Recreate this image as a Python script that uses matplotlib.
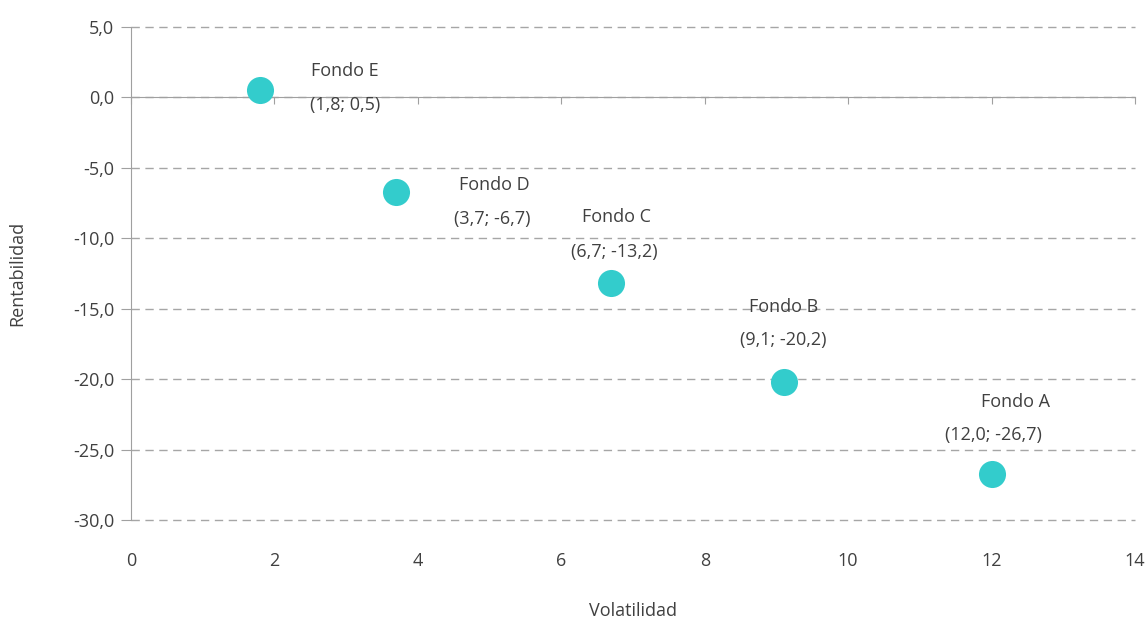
import matplotlib
matplotlib.use("Agg")
import matplotlib.pyplot as plt

funds = ["Fondo A", "Fondo B", "Fondo C", "Fondo D", "Fondo E"]
volatility = [12.0, 9.1, 6.7, 3.7, 1.8]
returns = [-26.7, -20.2, -13.2, -6.7, 0.5]
coord_labels = ["(12,0; -26,7)", "(9,1; -20,2)", "(6,7; -13,2)", "(3,7; -6,7)", "(1,8; 0,5)"]
x_ticks = [0, 2, 4, 6, 8, 10, 12, 14]
y_ticks = [5, 0, -5, -10, -15, -20, -25, -30]
y_tick_labels = ["5,0", "0,0", "-5,0", "-10,0", "-15,0", "-20,0", "-25,0", "-30,0"]

# label offsets in pixels (name, coords)
name_off = [(24, 72), (0, 75), (5, 66), (98, 7), (85, 19)]
coord_off = [(2, 39), (0, 42), (3, 31), (96, -27), (85, -15)]

plt.rcParams['font.family'] = ['Open Sans', 'DejaVu Sans']
txt = '#404040'
gray = '#a0a0a0'
fs = 13

fig = plt.figure(figsize=(11.48, 6.2), dpi=100)
ax = fig.add_axes([131/1148, 1-520/620, (1135-131)/1148, (520-27)/620])

ax.set_xlim(0, 14)
ax.set_ylim(-30, 5)

ax.yaxis.grid(True, linestyle=(0, (6, 4)), color='#a6a6a6', linewidth=1)
ax.set_axisbelow(True)

ax.scatter(volatility, returns, s=380, color='#33cccc', zorder=3, linewidths=0)

for i in range(len(funds)):
    ax.annotate(funds[i], (volatility[i], returns[i]), xytext=name_off[i],
                textcoords='offset pixels', ha='center', va='center',
                fontsize=fs, color=txt, zorder=4)
    ax.annotate(coord_labels[i], (volatility[i], returns[i]), xytext=coord_off[i],
                textcoords='offset pixels', ha='center', va='center',
                fontsize=fs, color=txt, zorder=4)

ax.spines['top'].set_visible(False)
ax.spines['right'].set_visible(False)
ax.spines['left'].set_color(gray)
ax.spines['bottom'].set_position(('data', 0))
ax.spines['bottom'].set_color(gray)

ax.set_xticks(x_ticks)
ax.tick_params(axis='x', direction='out', length=5, color=gray, labelbottom=False)
ax.set_yticks(y_ticks)
ax.set_yticklabels(y_tick_labels)
ax.tick_params(axis='y', direction='out', length=7, color=gray, labelcolor=txt,
               labelsize=fs, pad=5)

for gl in ax.yaxis.get_gridlines():
    gl.set_clip_on(False)

sec = ax.secondary_xaxis('bottom')
sec.set_xticks(x_ticks)
sec.set_xticklabels([str(t) for t in x_ticks])
sec.tick_params(length=0, labelsize=fs, labelcolor=txt, pad=23)
sec.spines['bottom'].set_visible(False)
sec.set_xlabel('Volatilidad', fontsize=fs, color=txt, labelpad=23)

ax.set_ylabel('Rentabilidad', fontsize=fs, color=txt, labelpad=34)

fig.savefig('out.png', dpi=100)
